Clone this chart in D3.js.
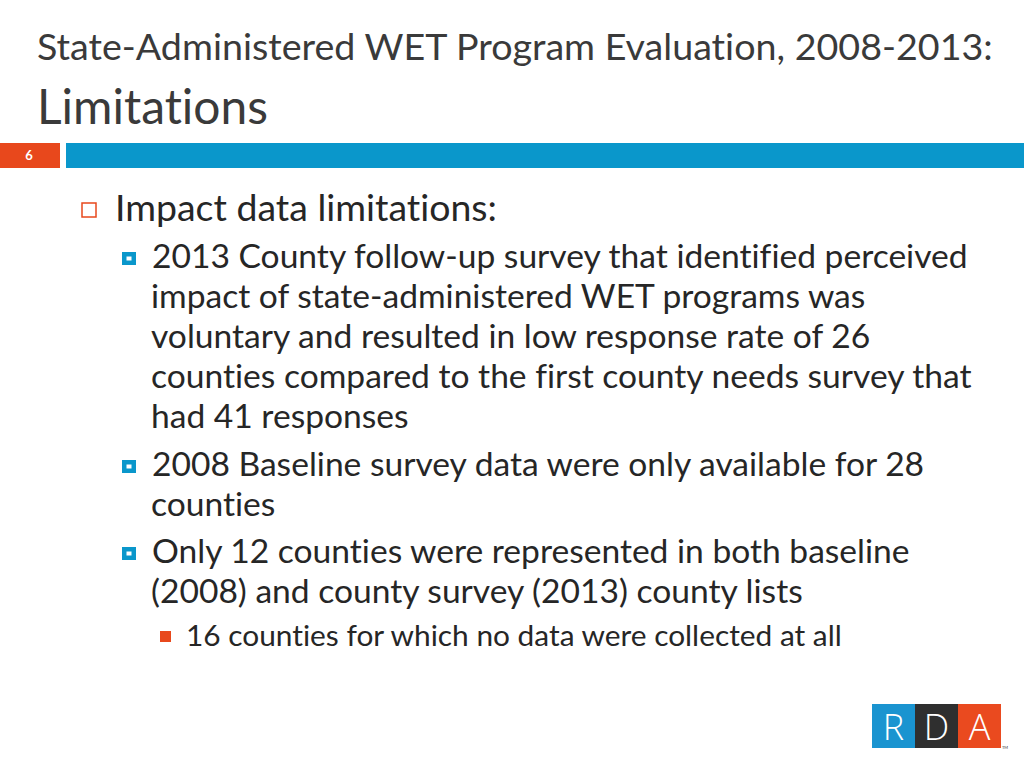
<!DOCTYPE html>
<html><head><meta charset="utf-8">
<script src="https://cdn.jsdelivr.net/npm/d3@7"></script>
<style>html,body{margin:0;padding:0;background:#fff;overflow:hidden}
text{font-variant-ligatures:none;font-feature-settings:"liga" 0,"clig" 0}</style>
</head><body>
<svg id="s" width="1024" height="768"></svg>
<script>
const titleLines = ["State-Administered WET Program Evaluation, 2008-2013:", "Limitations"];
const slideNumber = "6";
const level1 = ["Impact data limitations:"];
const level2 = [
  ["2013 County follow-up survey that identified perceived",
   "impact of state-administered WET programs was",
   "voluntary and resulted in low response rate of 26",
   "counties compared to the first county needs survey that",
   "had 41 responses"],
  ["2008 Baseline survey data were only available for 28",
   "counties"],
  ["Only 12 counties were represented in both baseline",
   "(2008) and county survey (2013) county lists"]
];
const level3 = ["16 counties for which no data were collected at all"];
const logoLetters = ["R", "D", "A"];

const svg = d3.select("#s");
const FONT = "Lato, 'Noto Sans', sans-serif";
const ORANGE = "#e8481c", BLUE = "#0a97cb", TXT = "#262626";

function fitText(sel, targetWidth, baseSize) {
  sel.attr("font-size", baseSize);
  const w = sel.node().getComputedTextLength();
  const fs = baseSize * targetWidth / w;
  sel.attr("font-size", fs);
  return fs;
}

// Title
const t1 = svg.append("text").attr("x", 37).attr("y", 60).attr("fill", "#3a3a3a")
  .attr("font-family", FONT).text(titleLines[0]);
fitText(t1, 956, 30);
const t2 = svg.append("text").attr("x", 37).attr("y", 124).attr("fill", "#3a3a3a")
  .attr("font-family", FONT).text(titleLines[1]);
fitText(t2, 231, 40);

// header bars
svg.append("rect").attr("x", 0).attr("y", 143).attr("width", 60).attr("height", 25).attr("fill", ORANGE);
svg.append("rect").attr("x", 66).attr("y", 143).attr("width", 958).attr("height", 25).attr("fill", BLUE);
svg.append("text").attr("x", 29).attr("y", 160).attr("text-anchor", "middle").attr("fill", "#fff")
  .attr("font-family", FONT).attr("font-weight", "bold").attr("font-size", 13).text(slideNumber);

// Level 1
svg.append("rect").attr("x", 82).attr("y", 203).attr("width", 14).attr("height", 14)
  .attr("fill", "none").attr("stroke", ORANGE).attr("stroke-width", 1.5);
const l1 = svg.append("text").attr("x", 115).attr("y", 221).attr("fill", TXT)
  .attr("font-family", FONT).text(level1[0]);
fitText(l1, 382, 32);

// Level 2
const probe = svg.append("text").attr("font-family", FONT).text(level2[0][0]);
const fs2 = fitText(probe, 816, 28);
probe.remove();
const starts = [268, 476, 563];
const lh = 40;
level2.forEach((lines, i) => {
  const y0 = starts[i];
  svg.append("rect").attr("x", 122).attr("y", y0 - 16).attr("width", 14).attr("height", 13).attr("fill", BLUE);
  svg.append("rect").attr("x", 126.5).attr("y", y0 - 11.5).attr("width", 5).attr("height", 4).attr("fill", "#fff");
  lines.forEach((ln, j) => {
    svg.append("text").attr("x", j === 0 ? 152 : 151).attr("y", y0 + j * lh)
      .attr("fill", TXT).attr("font-family", FONT).attr("font-size", fs2).text(ln);
  });
});

// Level 3
svg.append("rect").attr("x", 160).attr("y", 631).attr("width", 11).attr("height", 11).attr("fill", ORANGE);
const l3 = svg.append("text").attr("x", 186).attr("y", 646).attr("fill", TXT)
  .attr("font-family", FONT).text(level3[0]);
fitText(l3, 656, 24);

// Logo
const logoColors = ["#1a94d0", "#2f2f2f", "#ea4a1f"];
const lx = d3.scaleBand().domain(logoLetters).range([872, 1001]).padding(0);
const lg = svg.append("g");
logoLetters.forEach((L, i) => {
  lg.append("rect").attr("x", lx(L)).attr("y", 704).attr("width", lx.bandwidth()).attr("height", 44)
    .attr("fill", logoColors[i]);
  lg.append("text").attr("x", lx(L) + lx.bandwidth() / 2).attr("y", 740).attr("text-anchor", "middle")
    .attr("fill", "#fff").attr("font-family", "'Open Sans', sans-serif").attr("font-weight", 300)
    .attr("font-size", 36).text(L);
});
svg.append("text").attr("x", 1002).attr("y", 749).attr("fill", "#333").attr("font-size", 4)
  .attr("font-family", FONT).text("TM");
</script>
</body></html>
